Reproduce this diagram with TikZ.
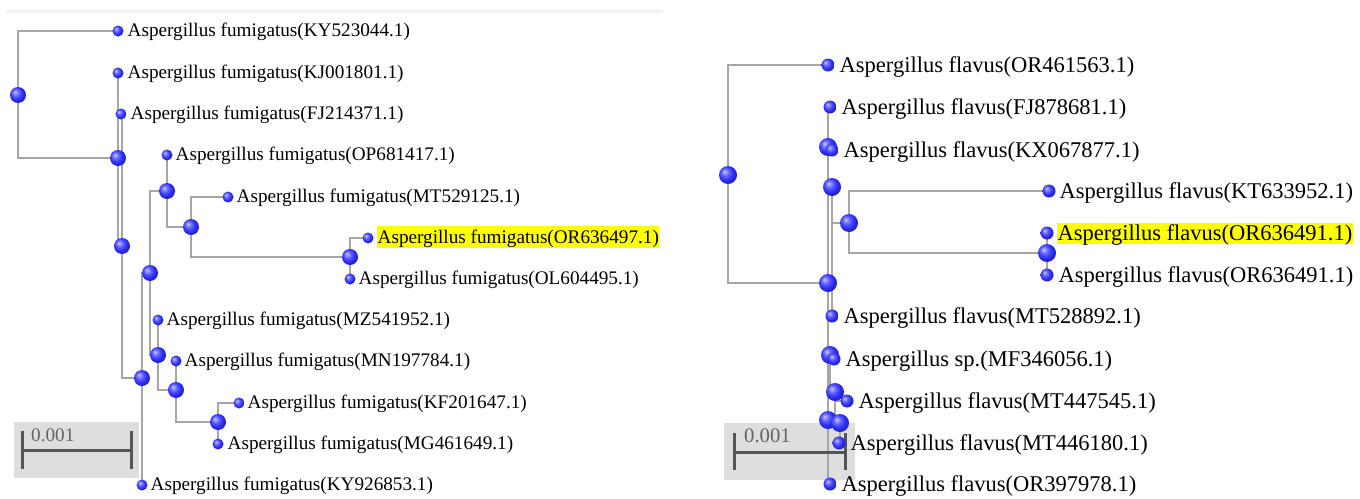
\documentclass[tikz,border=0pt]{standalone}
\usepackage{fontspec}
\setmainfont{Liberation Serif}
\usetikzlibrary{calc}
\definecolor{treegray}{RGB}{166,166,166}
\definecolor{sblue}{RGB}{55,55,255}
\definecolor{sbluehi}{RGB}{200,200,255}
\definecolor{sbluemid}{RGB}{110,110,255}
\definecolor{sbluedk}{RGB}{35,35,215}
\definecolor{sblueedge}{RGB}{25,25,170}
\definecolor{boxgray}{RGB}{222,222,222}
\definecolor{bargray}{RGB}{85,85,85}
\definecolor{numgray}{RGB}{100,100,100}
\definecolor{hl}{RGB}{255,255,0}
\definecolor{topband}{RGB}{244,244,244}
\pgfdeclareradialshading{bluesphere}{\pgfqpoint{-10bp}{10bp}}{color(0bp)=(sbluehi); color(9bp)=(sbluemid); color(18bp)=(sblue); color(25bp)=(sbluedk); color(50bp)=(sblueedge)}
\newcommand\leftfs{\fontsize{19.2}{22}\selectfont}
\newcommand\rightfs{\fontsize{22.5}{26}\selectfont}
\tikzset{
  edge/.style={draw=treegray, line width=2pt},
  sphere/.style={circle, inner sep=0pt, shading=bluesphere},
  leafball/.style={sphere, minimum size=11pt},
  innerball/.style={sphere, minimum size=16pt},
  rleafball/.style={sphere, minimum size=13pt},
  rinnerball/.style={sphere, minimum size=18pt},
  llab/.style={anchor=base west, inner xsep=0.5pt, inner ysep=0pt, text height=17pt, text depth=5pt, font=\leftfs},
  rlab/.style={anchor=base west, inner xsep=0.5pt, inner ysep=0pt, text height=17pt, text depth=4pt, font=\rightfs},
  scalebox/.style={fill=boxgray, draw=none},
  scalebar/.style={draw=bargray, line width=3pt},
  scalenum/.style={anchor=base west, inner sep=0pt, text=numgray},
}
\begin{document}
\begin{tikzpicture}[x=1pt,y=-1pt]
\useasboundingbox (0,0) rectangle (1360,498);
\fill[white] (0,0) rectangle (1360,498);
\fill[topband] (6,9) rectangle (663,13);
% ---------- left tree coordinates ----------
\coordinate (R) at (18,95);
\coordinate (KY) at (118,31);
\coordinate (A) at (118,158);
\coordinate (KJ) at (118,73);
\coordinate (FJ) at (121,114);
\coordinate (B) at (122,246);
\coordinate (C) at (142,378);
\coordinate (D) at (150,273);
\coordinate (E) at (167,191);
\coordinate (OP) at (167,155);
\coordinate (G) at (191,227);
\coordinate (MTa) at (228,197);
\coordinate (H) at (350,257);
\coordinate (ORl) at (368,238);
\coordinate (OL) at (350,279);
\coordinate (F) at (158,355);
\coordinate (MZ) at (158,320);
\coordinate (I) at (176,390);
\coordinate (MN) at (176,361);
\coordinate (J) at (218,422);
\coordinate (KF) at (239,403);
\coordinate (MG) at (218,444);
\coordinate (KYb) at (142,485);
% ---------- right tree coordinates ----------
\coordinate (R2) at (728,175);
\coordinate (ORa) at (828,65);
\coordinate (A2) at (828,283);
\coordinate (FJ2) at (830,107);
\coordinate (N1) at (828,147);
\coordinate (KX) at (832,150);
\coordinate (N2) at (832,187);
\coordinate (N3) at (849,223);
\coordinate (KT) at (1049,191);
\coordinate (N5) at (1047,253);
\coordinate (ORh) at (1047,233);
\coordinate (ORb) at (1047,275);
\coordinate (MT52) at (832,316);
\coordinate (N6) at (830,355);
\coordinate (MF) at (834,359);
\coordinate (N8) at (835,392);
\coordinate (MT447) at (847,401);
\coordinate (N7) at (828,420);
\coordinate (N9) at (840,423);
\coordinate (MT446) at (839,443);
\coordinate (OR39) at (830,484);
% ---------- scale boxes ----------
\coordinate (sbL1) at (14,422);
\coordinate (sbL2) at (139,478);
\coordinate (sbR1) at (724,423);
\coordinate (sbR2) at (855,480);
\fill[scalebox] (sbL1) rectangle (sbL2);
\fill[scalebox] (sbR1) rectangle (sbR2);
% ---------- left edges ----------
\foreach \p/\c in {R/KY,R/A,A/KJ,A/B,B/FJ,B/C,C/D,C/KYb,D/E,D/F,E/OP,E/G,G/MTa,G/H,H/ORl,H/OL,F/MZ,F/I,I/MN,I/J,J/KF,J/MG}
  \draw[edge] (\p) |- (\c);
% ---------- right edges ----------
\foreach \p/\c in {R2/ORa,R2/A2,A2/FJ2,A2/N1,A2/N6,A2/OR39,N1/KX,N1/N2,N2/N3,N2/MT52,N3/KT,N3/N5,N5/ORh,N5/ORb,N6/MF,N6/N8,N8/MT447,N8/N7,N7/N9,N9/MT446}
  \draw[edge] (\p) |- (\c);
% ---------- scale bars ----------
\coordinate (bL1) at (22,450); \coordinate (bL2) at (131,450);
\coordinate (tL1a) at (22,431); \coordinate (tL1b) at (22,469);
\coordinate (tL2a) at (131,431); \coordinate (tL2b) at (131,469);
\draw[scalebar] (bL1) -- (bL2);
\draw[scalebar] (tL1a) -- (tL1b);
\draw[scalebar] (tL2a) -- (tL2b);
\coordinate (bR1) at (734,452); \coordinate (bR2) at (845,452);
\coordinate (tR1a) at (734,433); \coordinate (tR1b) at (734,470);
\coordinate (tR2a) at (845,433); \coordinate (tR2b) at (845,470);
\draw[scalebar] (bR1) -- (bR2);
\draw[scalebar] (tR1a) -- (tR1b);
\draw[scalebar] (tR2a) -- (tR2b);
\node[scalenum, font=\leftfs] (numL) at (31,441) {0.001};
\node[scalenum, font=\fontsize{20.7}{24}\selectfont] (numR) at (744,442) {0.001};
% ---------- left spheres ----------
\foreach \n in {R,A,B,C,D,E,G,H,F,I,J}
  \node[innerball] (b\n) at (\n) {};
\foreach \n in {KY,KJ,FJ,OP,MTa,ORl,OL,MZ,MN,KF,MG,KYb}
  \node[leafball] (b\n) at (\n) {};
% ---------- right spheres ----------
\foreach \n in {R2,A2,N1,N2,N3,N5,N6,N8,N7,N9}
  \node[rinnerball] (b\n) at (\n) {};
\foreach \n in {ORa,FJ2,KX,KT,ORh,ORb,MT52,MF,MT447,MT446,OR39}
  \node[rleafball] (b\n) at (\n) {};
% ---------- left labels ----------
\node[llab] (lKY) at ($(KY)+(9,5)$) {Aspergillus fumigatus(KY523044.1)};
\node[llab] (lKJ) at ($(KJ)+(9,5)$) {Aspergillus fumigatus(KJ001801.1)};
\node[llab] (lFJ) at ($(FJ)+(9,5)$) {Aspergillus fumigatus(FJ214371.1)};
\node[llab] (lOP) at ($(OP)+(8,5)$) {Aspergillus fumigatus(OP681417.1)};
\node[llab] (lMTa) at ($(MTa)+(8,5)$) {Aspergillus fumigatus(MT529125.1)};
\node[llab, fill=hl] (lORl) at ($(ORl)+(9,5)$) {Aspergillus fumigatus(OR636497.1)};
\node[llab] (lOL) at ($(OL)+(8,5)$) {Aspergillus fumigatus(OL604495.1)};
\node[llab] (lMZ) at ($(MZ)+(8,5)$) {Aspergillus fumigatus(MZ541952.1)};
\node[llab] (lMN) at ($(MN)+(8,5)$) {Aspergillus fumigatus(MN197784.1)};
\node[llab] (lKF) at ($(KF)+(8,5)$) {Aspergillus fumigatus(KF201647.1)};
\node[llab] (lMG) at ($(MG)+(9,5)$) {Aspergillus fumigatus(MG461649.1)};
\node[llab] (lKYb) at ($(KYb)+(8,5)$) {Aspergillus fumigatus(KY926853.1)};
% ---------- right labels ----------
\node[rlab] (lORa) at ($(ORa)+(11,7)$) {Aspergillus flavus(OR461563.1)};
\node[rlab] (lFJ2) at ($(FJ2)+(11,7)$) {Aspergillus flavus(FJ878681.1)};
\node[rlab] (lKX) at ($(KX)+(11,7)$) {Aspergillus flavus(KX067877.1)};
\node[rlab] (lKT) at ($(KT)+(10,7)$) {Aspergillus flavus(KT633952.1)};
\node[rlab, fill=hl] (lORh) at ($(ORh)+(10,7)$) {Aspergillus flavus(OR636491.1)};
\node[rlab] (lORb) at ($(ORb)+(11,7)$) {Aspergillus flavus(OR636491.1)};
\node[rlab] (lMT52) at ($(MT52)+(11,7)$) {Aspergillus flavus(MT528892.1)};
\node[rlab] (lMF) at ($(MF)+(11,7)$) {Aspergillus sp.(MF346056.1)};
\node[rlab] (lMT447) at ($(MT447)+(11,7)$) {Aspergillus flavus(MT447545.1)};
\node[rlab] (lMT446) at ($(MT446)+(11,7)$) {Aspergillus flavus(MT446180.1)};
\node[rlab] (lOR39) at ($(OR39)+(11,7)$) {Aspergillus flavus(OR397978.1)};
\end{tikzpicture}
\end{document}
